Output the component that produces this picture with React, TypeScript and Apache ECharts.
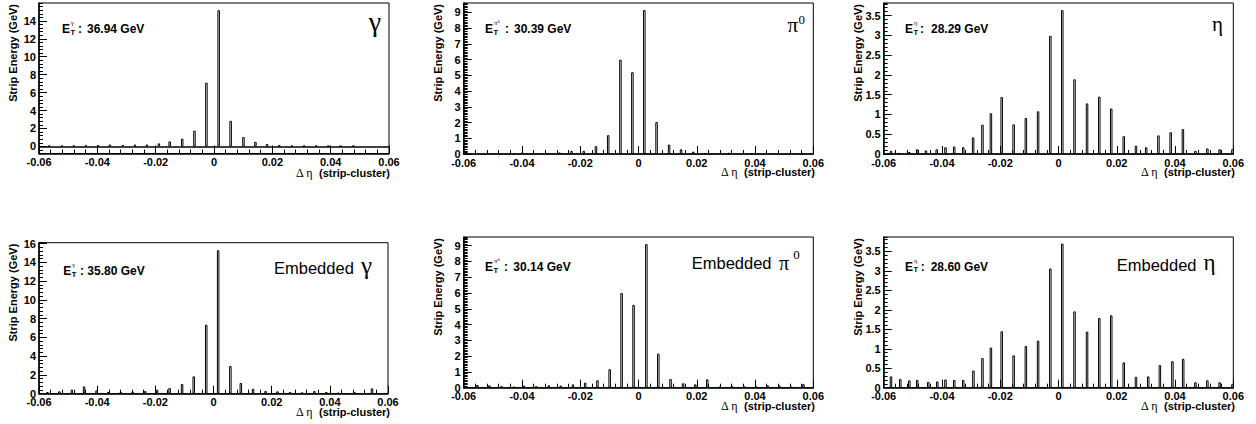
import { useEffect, useRef } from "react";
import * as echarts from "echarts";

const SANS = '"Liberation Sans", Arial, Helvetica, sans-serif';
const SERIF = '"Liberation Serif", "Times New Roman", serif';

// x axis tick labels (Δη)
const xTickLabels = [-0.06, -0.04, -0.02, 0, 0.02, 0.04, 0.06];

// γ
const gammaEta = [-0.0565, -0.0521, -0.0481, -0.0439, -0.0397, -0.0357, -0.0313, -0.0271, -0.023, -0.0189, -0.0152, -0.0109, -0.0067, -0.0026, 0.0016, 0.0057, 0.0101, 0.0142, 0.0182, 0.0224, 0.0267, 0.0309, 0.035, 0.0392, 0.0434, 0.0478];
const gammaE = [0.05, 0.05, 0.1, 0.1, 0.12, 0.2, 0.15, 0.2, 0.2, 0.33, 0.55, 0.85, 1.75, 7.1, 15.2, 2.85, 1.04, 0.5, 0.25, 0.15, 0.06, 0.06, 0.04, 0.05, 0.03, 0.05];
const gammaTicks = [0, 2, 4, 6, 8, 10, 12, 14];

// π0
const pi0Eta = [-0.0479, -0.0399, -0.0312, -0.0271, -0.023, -0.0188, -0.0146, -0.0104, -0.0062, -0.0021, 0.002, 0.0062, 0.0105, 0.0146, 0.0188, 0.0229, 0.031, 0.039, 0.056];
const pi0E = [0.05, 0.1, 0.05, 0.1, 0.2, 0.2, 0.5, 1.2, 6.0, 5.2, 9.15, 2.03, 0.6, 0.3, 0.15, 0.05, 0.08, 0.05, 0.05];
const pi0Ticks = [0, 1, 2, 3, 4, 5, 6, 7, 8, 9];

// η
const etaEta = [-0.0575, -0.0549, -0.0512, -0.0485, -0.0455, -0.0418, -0.0388, -0.0358, -0.0327, -0.0293, -0.0261, -0.0232, -0.0195, -0.0154, -0.0112, -0.007, -0.0028, 0.0013, 0.0055, 0.0098, 0.014, 0.0181, 0.0224, 0.0266, 0.0301, 0.0343, 0.0385, 0.0427, 0.047, 0.0511, 0.0553, 0.0597];
const etaE = [0.08, 0.03, 0.05, 0.12, 0.09, 0.12, 0.17, 0.19, 0.17, 0.42, 0.74, 1.03, 1.44, 0.75, 0.91, 1.08, 2.99, 3.64, 1.89, 1.28, 1.45, 1.15, 0.45, 0.21, 0.17, 0.47, 0.55, 0.63, 0.08, 0.14, 0.12, 0.12];
const etaTicks = [0, 0.5, 1, 1.5, 2, 2.5, 3, 3.5];

// Embedded γ
const embGammaEta = [-0.0571, -0.053, -0.0487, -0.0445, -0.0402, -0.0362, -0.0319, -0.0278, -0.0235, -0.0194, -0.0151, -0.0108, -0.0068, -0.0025, 0.0016, 0.0058, 0.0094, 0.0136, 0.0179, 0.022, 0.0263, 0.0305, 0.0347, 0.0388, 0.0429, 0.0486, 0.0545];
const embGammaE = [0.18, 0.25, 0.43, 0.78, 0.36, 0.18, 0.18, 0.21, 0.28, 0.43, 0.6, 1.03, 1.85, 7.35, 15.3, 2.95, 1.14, 0.53, 0.28, 0.25, 0.18, 0.14, 0.28, 0.18, 0.1, 0.14, 0.57];
const embGammaTicks = [0, 2, 4, 6, 8, 10, 12, 14, 16];

// Embedded π0
const embPi0Eta = [-0.0553, -0.0512, -0.047, -0.0427, -0.0393, -0.0351, -0.0308, -0.0267, -0.0225, -0.0183, -0.0141, -0.0099, -0.0058, -0.0017, 0.0027, 0.0068, 0.011, 0.0153, 0.0195, 0.0236, 0.0279, 0.0321, 0.0362, 0.0404, 0.0443, 0.0483, 0.0525, 0.0566];
const embPi0E = [0.17, 0.15, 0.1, 0.06, 0.13, 0.1, 0.15, 0.13, 0.21, 0.32, 0.47, 1.17, 6.0, 5.25, 9.1, 2.16, 0.55, 0.28, 0.21, 0.53, 0.06, 0.1, 0.1, 0.08, 0.15, 0.15, 0.06, 0.23];
const embPi0Ticks = [0, 1, 2, 3, 4, 5, 6, 7, 8, 9];

// Embedded η
const embEtaEta = [-0.0575, -0.0543, -0.0512, -0.0485, -0.0447, -0.0416, -0.0388, -0.0358, -0.0327, -0.0292, -0.0261, -0.0232, -0.0195, -0.0154, -0.0112, -0.007, -0.0028, 0.0013, 0.0055, 0.0098, 0.014, 0.0181, 0.0224, 0.0266, 0.0308, 0.0348, 0.0391, 0.0428, 0.047, 0.0511, 0.0553, 0.0597];
const embEtaE = [0.29, 0.22, 0.19, 0.2, 0.15, 0.16, 0.21, 0.2, 0.2, 0.44, 0.76, 1.03, 1.45, 0.83, 1.07, 1.21, 3.06, 3.7, 1.96, 1.44, 1.79, 1.86, 0.65, 0.28, 0.29, 0.58, 0.68, 0.74, 0.14, 0.19, 0.14, 0.09];
const embEtaTicks = [0, 0.5, 1, 1.5, 2, 2.5, 3, 3.5];

const etValues = ["36.94 GeV", "30.39 GeV", "28.29 GeV", "35.80 GeV", "30.14 GeV", "28.60 GeV"];

type Piece = { text: string; x: number; base: number; size: number; font: "sans" | "serif"; bold?: boolean; align?: string };

type Panel = {
  eta: number[]; e: number[]; ticks: number[];
  yMin: number; yMax: number; minor: number; zeroLine?: boolean;
  grid: { left: number; top: number; width: number; height: number };
  yTitleX: number; xTitleRight: number; xTitleY: number;
  eX: number; eBase: number; sup: string; colonX: number; numX: number; et: string;
  big: Piece[];
};

const panels: Panel[] = [
  {
    eta: gammaEta, e: gammaE, ticks: gammaTicks, yMin: -0.8, yMax: 16, minor: 0.4, zeroLine: true,
    grid: { left: 39, top: 3, width: 350, height: 150.5 },
    yTitleX: 13, xTitleRight: 390, xTitleY: 172.5,
    eX: 62, eBase: 33.3, sup: "γ", colonX: 78, numX: 87, et: etValues[0],
    big: [{ text: "γ", x: 381, base: 30.6, size: 28, font: "serif", align: "right" }],
  },
  {
    eta: pi0Eta, e: pi0E, ticks: pi0Ticks, yMin: 0, yMax: 9.6, minor: 0.1,
    grid: { left: 463.7, top: 3, width: 349.6, height: 151 },
    yTitleX: 438, xTitleRight: 815, xTitleY: 172.3,
    eX: 485, eBase: 33.3, sup: "π0", colonX: 505, numX: 514, et: etValues[1],
    big: [
      { text: "π", x: 798, base: 32.3, size: 21, font: "serif", align: "right" },
      { text: "0", x: 798.5, base: 24, size: 13, font: "serif" },
    ],
  },
  {
    eta: etaEta, e: etaE, ticks: etaTicks, yMin: 0, yMax: 3.82, minor: 0.1,
    grid: { left: 883.7, top: 3, width: 349.6, height: 151 },
    yTitleX: 858, xTitleRight: 1235, xTitleY: 172.3,
    eX: 905, eBase: 33.3, sup: "η", colonX: 920, numX: 931, et: etValues[2],
    big: [{ text: "η", x: 1223, base: 31.2, size: 21, font: "serif", align: "right" }],
  },
  {
    eta: embGammaEta, e: embGammaE, ticks: embGammaTicks, yMin: 0, yMax: 16.1, minor: 0.4,
    grid: { left: 39, top: 242.7, width: 349, height: 151 },
    yTitleX: 13, xTitleRight: 390, xTitleY: 412,
    eX: 63.3, eBase: 275.3, sup: "γ", colonX: 80, numX: 87.3, et: etValues[3],
    big: [
      { text: "Embedded", x: 274, base: 273.7, size: 16.5, font: "sans" },
      { text: "γ", x: 361, base: 273.5, size: 25, font: "serif" },
    ],
  },
  {
    eta: embPi0Eta, e: embPi0E, ticks: embPi0Ticks, yMin: 0, yMax: 9.55, minor: 0.1,
    grid: { left: 463.7, top: 237, width: 349.6, height: 150.7 },
    yTitleX: 438, xTitleRight: 815, xTitleY: 405.5,
    eX: 485, eBase: 271.3, sup: "π0", colonX: 504, numX: 513.3, et: etValues[4],
    big: [
      { text: "Embedded", x: 691.7, base: 268.7, size: 16.5, font: "sans" },
      { text: "π", x: 779, base: 269.3, size: 20, font: "serif" },
      { text: "0", x: 793.3, base: 258.7, size: 13, font: "serif" },
    ],
  },
  {
    eta: embEtaEta, e: embEtaE, ticks: embEtaTicks, yMin: 0, yMax: 3.87, minor: 0.1,
    grid: { left: 883.7, top: 237, width: 349.6, height: 150.7 },
    yTitleX: 858, xTitleRight: 1235, xTitleY: 405.5,
    eX: 905, eBase: 271, sup: "η", colonX: 920.7, numX: 930.7, et: etValues[5],
    big: [
      { text: "Embedded", x: 1116.7, base: 270.3, size: 16.5, font: "sans" },
      { text: "η", x: 1203.5, base: 270.7, size: 23, font: "serif" },
    ],
  },
];

const mid = (base: number, size: number) => base - 0.34 * size;

function textEl(p: Piece) {
  return {
    type: "text",
    x: p.x,
    y: mid(p.base, p.size),
    silent: true,
    style: {
      text: p.text,
      fill: "#000",
      fontSize: p.size,
      fontFamily: p.font === "serif" ? SERIF : SANS,
      fontWeight: p.bold ? "bold" : "normal",
      align: p.align || "left",
      verticalAlign: "middle",
    },
  };
}

const fmtX = (v: number) => (Math.abs(v) < 1e-9 ? "0" : String(Math.round(v * 100) / 100));

function buildOption() {
  const grid: any[] = [];
  const xAxis: any[] = [];
  const yAxis: any[] = [];
  const series: any[] = [];
  const graphic: any[] = [];

  panels.forEach((p, i) => {
    grid.push({ ...p.grid, show: true, borderColor: "#000", borderWidth: 1, backgroundColor: "transparent", containLabel: false });
    xAxis.push({
      gridIndex: i,
      type: "value",
      min: xTickLabels[0],
      max: xTickLabels[xTickLabels.length - 1],
      interval: 0.02,
      axisLine: { show: true, onZero: false, lineStyle: { color: "#000", width: 1.5 } },
      axisTick: { show: true, inside: true, length: 8, lineStyle: { color: "#000", width: 1 } },
      minorTick: { show: true, splitNumber: 5, length: 4, lineStyle: { color: "#000", width: 1 } },
      axisLabel: {
        color: "#000", fontSize: 11, fontWeight: "bold", fontFamily: SANS, margin: 3,
        showMinLabel: true, showMaxLabel: true, hideOverlap: false, formatter: fmtX,
      },
      splitLine: { show: false },
      minorSplitLine: { show: false },
    });
    yAxis.push({
      gridIndex: i,
      type: "value",
      position: "left",
      min: p.yMin,
      max: p.yMax,
      axisLine: { show: true, onZero: false, lineStyle: { color: "#000", width: 1.5 } },
      axisTick: { show: true, inside: true, length: 8, customValues: p.ticks, lineStyle: { color: "#000", width: 1 } },
      axisLabel: {
        color: "#000", fontSize: 11, fontWeight: "bold", fontFamily: SANS, margin: 3,
        customValues: p.ticks, showMinLabel: true, showMaxLabel: true, hideOverlap: false,
        formatter: (v: number) => String(Math.round(v * 100) / 100),
      },
      splitLine: { show: false },
    });
    yAxis.push({
      gridIndex: i,
      type: "value",
      position: "left",
      offset: 0,
      min: p.yMin,
      max: p.yMax,
      interval: p.minor,
      axisLine: { show: false, onZero: false },
      axisTick: { show: true, inside: true, length: 4, lineStyle: { color: "#000", width: 1 } },
      axisLabel: { show: false },
      splitLine: { show: false },
    });
    const s: any = {
      type: "bar",
      xAxisIndex: i,
      yAxisIndex: 2 * i,
      barWidth: 2.5,
      data: p.eta.map((x, k) => [x, p.e[k]]),
      itemStyle: { color: "#fff", borderColor: "#000", borderWidth: 1 },
      silent: true,
    };
    if (p.zeroLine) {
      s.markLine = {
        silent: true,
        symbol: "none",
        label: { show: false },
        lineStyle: { color: "#000", width: 1.5, type: "solid" },
        data: [{ yAxis: 0 }],
      };
    }
    series.push(s);

    // y-axis title (rotated, aligned to top)
    graphic.push({
      type: "text",
      x: p.yTitleX,
      y: p.grid.top + 1,
      rotation: Math.PI / 2,
      silent: true,
      style: {
        text: "Strip Energy (GeV)", fill: "#000", fontSize: 11, fontWeight: "bold", fontFamily: SANS,
        align: "right", verticalAlign: "middle",
      },
    });
    // x-axis title
    graphic.push({
      type: "text",
      x: p.xTitleRight,
      y: p.xTitleY,
      silent: true,
      style: {
        text: "{a|Δ η}  {b|(strip-cluster)}",
        fill: "#000",
        align: "right",
        verticalAlign: "middle",
        rich: {
          a: { fontFamily: SERIF, fontSize: 12, fill: "#000" },
          b: { fontFamily: SANS, fontSize: 11, fontWeight: "bold", fill: "#000" },
        },
      },
    });
    // E_T annotation
    graphic.push(textEl({ text: "E", x: p.eX, base: p.eBase, size: 12, font: "sans", bold: true }));
    graphic.push(textEl({ text: "T", x: p.eX + 8.5, base: p.eBase + 1.3, size: 7.5, font: "sans", bold: true }));
    if (p.sup === "π0") {
      graphic.push(textEl({ text: "π", x: p.eX + 9, base: p.eBase - 8.5, size: 6.5, font: "serif" }));
      graphic.push(textEl({ text: "0", x: p.eX + 12.5, base: p.eBase - 10.5, size: 4.5, font: "serif" }));
    } else {
      graphic.push(textEl({ text: p.sup, x: p.eX + 9, base: p.eBase - 8.5, size: 6.5, font: "serif" }));
    }
    graphic.push(textEl({ text: ":", x: p.colonX, base: p.eBase, size: 12, font: "sans", bold: true }));
    graphic.push(textEl({ text: p.et, x: p.numX, base: p.eBase, size: 12, font: "sans", bold: true }));
    // panel label
    p.big.forEach((b) => graphic.push(textEl(b)));
  });

  return { animation: false, backgroundColor: "#fff", grid, xAxis, yAxis, series, graphic };
}

export default function App() {
  const ref = useRef<HTMLDivElement>(null);
  useEffect(() => {
    if (!ref.current) return;
    const chart = echarts.init(ref.current, undefined, { renderer: "svg" });
    chart.setOption(buildOption() as any);
    return () => chart.dispose();
  }, []);
  return <div ref={ref} style={{ position: "absolute", left: 0, top: 0, width: 1256, height: 424, background: "#fff" }} />;
}
